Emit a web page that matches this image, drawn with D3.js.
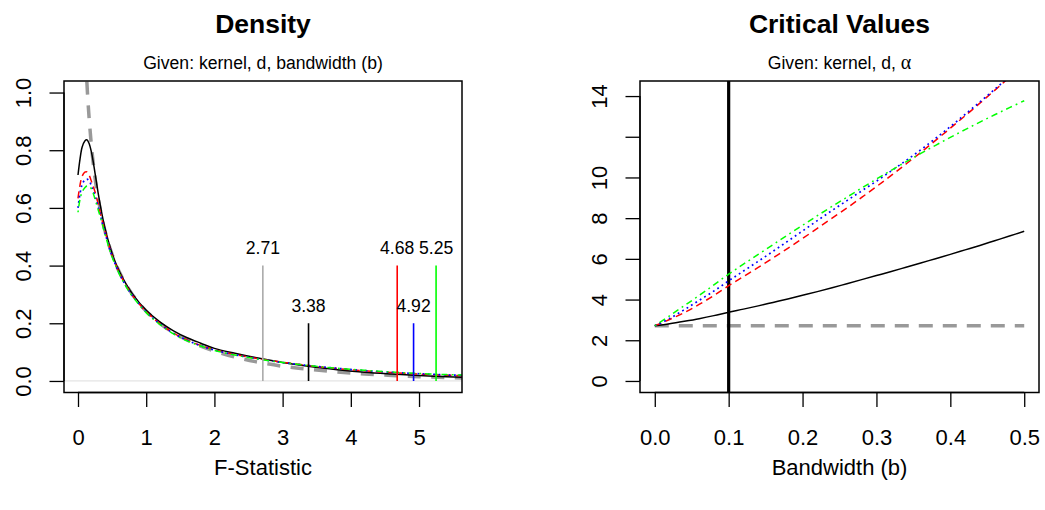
<!DOCTYPE html>
<html>
<head>
<meta charset="utf-8">
<script src="https://cdn.jsdelivr.net/npm/d3@7"></script>
<style>
  html, body { margin: 0; padding: 0; background: #fff; }
  svg { display: block; font-family: "Liberation Sans", Arial, Helvetica, sans-serif; }
</style>
</head>
<body>
<svg id="chart" width="1045" height="510"></svg>
<script>
// ---- Density panel data ----
const densX = [0, 0.03, 0.06, 0.1, 0.13, 0.16, 0.2, 0.25, 0.3, 0.35, 0.4, 0.5, 0.6, 0.7, 0.8, 1.0,
  1.2, 1.4, 1.6, 1.8, 2.0, 2.3, 2.6, 3.0, 3.4, 3.8, 4.2, 4.6, 5.0, 5.4, 5.7];
const densBlack = [0.714, 0.77, 0.81, 0.832, 0.836, 0.825, 0.79, 0.72, 0.645, 0.58, 0.525, 0.442, 0.383, 0.338, 0.301, 0.245,
  0.205, 0.174, 0.150, 0.131, 0.113, 0.096, 0.081, 0.064, 0.050, 0.039, 0.030, 0.024, 0.019, 0.015, 0.012];
const densRed = [0.633, 0.68, 0.71, 0.724, 0.725, 0.715, 0.69, 0.655, 0.61, 0.56, 0.515, 0.435, 0.378, 0.333, 0.296, 0.240,
  0.199, 0.166, 0.142, 0.123, 0.108, 0.092, 0.079, 0.065, 0.053, 0.043, 0.035, 0.029, 0.024, 0.020, 0.018];
const densBlue = [0.60, 0.65, 0.68, 0.697, 0.70, 0.695, 0.675, 0.64, 0.60, 0.555, 0.51, 0.433, 0.376, 0.331, 0.295, 0.239,
  0.198, 0.165, 0.141, 0.122, 0.107, 0.091, 0.078, 0.064, 0.053, 0.044, 0.036, 0.030, 0.025, 0.021, 0.019];
const densGreen = [0.585, 0.63, 0.655, 0.670, 0.676, 0.675, 0.665, 0.63, 0.59, 0.55, 0.505, 0.43, 0.374, 0.329, 0.293, 0.237,
  0.196, 0.163, 0.139, 0.121, 0.106, 0.090, 0.077, 0.064, 0.053, 0.044, 0.037, 0.031, 0.026, 0.022, 0.020];
// chi-square(1) reference density
const chiX = [0.1, 0.12, 0.15, 0.2, 0.25, 0.3, 0.4, 0.5, 0.6, 0.7, 0.8, 1.0, 1.2, 1.4, 1.6, 1.8, 2.0, 2.3, 2.6, 3.0,
  3.4, 3.8, 4.2, 4.6, 5.0, 5.4, 5.7];
const chiY = [1.2, 1.085, 0.956, 0.807, 0.704, 0.627, 0.516, 0.439, 0.381, 0.336, 0.299, 0.242, 0.200, 0.167, 0.142, 0.121,
  0.104, 0.083, 0.067, 0.051, 0.040, 0.031, 0.024, 0.019, 0.015, 0.012, 0.010];

// critical value markers
const critVals = [2.71, 3.38, 4.68, 4.92, 5.25];
const critLabels = ["2.71", "3.38", "4.68", "4.92", "5.25"];
const critHeights = [0.4, 0.2, 0.4, 0.2, 0.4];
const critColors = ["#aaaaaa", "#000000", "#ff0000", "#0000ff", "#00ff00"];

const densXTicks = [0, 1, 2, 3, 4, 5];
const densYTicks = [0, 0.2, 0.4, 0.6, 0.8, 1.0];
const densYTickLabels = ["0.0", "0.2", "0.4", "0.6", "0.8", "1.0"];

// ---- Critical values panel data ----
const bw = [0, 0.02, 0.04, 0.06, 0.08, 0.10, 0.12, 0.14, 0.16, 0.18, 0.20, 0.22, 0.24,
  0.26, 0.28, 0.30, 0.32, 0.34, 0.36, 0.38, 0.40, 0.42, 0.44, 0.46, 0.48, 0.50];
const cvBlack = [2.71, 2.81, 2.93, 3.06, 3.21, 3.38, 3.53, 3.69, 3.86, 4.03, 4.21, 4.39, 4.58,
  4.78, 4.98, 5.18, 5.38, 5.59, 5.80, 6.01, 6.22, 6.44, 6.66, 6.89, 7.12, 7.36];
const cvRed = [2.71, 3.02, 3.36, 3.76, 4.20, 4.68, 5.13, 5.58, 6.04, 6.52, 7.00, 7.50, 8.00,
  8.50, 9.02, 9.55, 10.10, 10.66, 11.23, 11.82, 12.42, 13.03, 13.65, 14.28, 14.92, 15.57];
const cvBlue = [2.71, 3.07, 3.50, 3.96, 4.42, 4.92, 5.40, 5.88, 6.37, 6.87, 7.37, 7.88, 8.38,
  8.86, 9.34, 9.82, 10.32, 10.83, 11.36, 11.92, 12.50, 13.10, 13.71, 14.33, 14.97, 15.62];
const cvGreen = [2.71, 3.20, 3.70, 4.20, 4.72, 5.25, 5.74, 6.22, 6.70, 7.18, 7.65, 8.12, 8.58,
  9.03, 9.48, 9.92, 10.35, 10.77, 11.18, 11.58, 11.97, 12.35, 12.72, 13.08, 13.43, 13.77];
const chiCrit = 2.71;
const chosenBw = 0.1;

const cvXTicks = [0, 0.1, 0.2, 0.3, 0.4, 0.5];
const cvXTickLabels = ["0.0", "0.1", "0.2", "0.3", "0.4", "0.5"];
const cvYTicks = [0, 2, 4, 6, 8, 10, 12, 14];
const cvYTickLabels = ["0", "2", "4", "6", "8", "10", "", "14"];

// ---- drawing ----
const svg = d3.select("#chart");
const TICK_FONT = 22, SMALL_FONT = 17.6, TITLE_FONT = 26.5;

const styles = {
  black: { color: "#000", dash: null },
  red: { color: "#ff0000", dash: "7,4.5" },
  blue: { color: "#0000ff", dash: "1.8,3.4" },
  green: { color: "#00ff00", dash: "1.8,4,6.5,4" },
  gray: { color: "#999999", dash: "13,10.5" }
};

function panel(opts) {
  const { left, right, top, bottom, xDomain, yDomain, id } = opts;
  const x = d3.scaleLinear().domain(xDomain).range([left, right]);
  const y = d3.scaleLinear().domain(yDomain).range([bottom, top]);
  const g = svg.append("g");
  svg.append("clipPath").attr("id", id)
    .append("rect").attr("x", left).attr("y", top)
    .attr("width", right - left).attr("height", bottom - top);
  const plot = g.append("g").attr("clip-path", `url(#${id})`);
  return { x, y, g, plot, left, right, top, bottom };
}

function drawAxes(p, xTicks, xLabels, yTicks, yLabels, xTitle, title, subtitle) {
  const { x, y, g, left, right, top, bottom } = p;
  // x axis
  const xa = d3.axisBottom(x).tickValues(xTicks).tickFormat((d, i) => xLabels[i])
    .tickSize(14.5).tickPadding(20);
  const gx = g.append("g").attr("transform", `translate(0,${bottom})`).call(xa);
  gx.select(".domain").attr("d", `M${x(xTicks[0])},0H${x(xTicks[xTicks.length - 1])}`);
  gx.selectAll("line").attr("stroke", "#000").attr("stroke-width", 1.3);
  gx.select(".domain").attr("stroke", "#000").attr("stroke-width", 1.3);
  gx.selectAll("text").attr("font-size", TICK_FONT).attr("fill", "#000")
    .attr("font-family", "Liberation Sans, Arial, sans-serif").attr("dy", null)
    .attr("y", 52.5);
  // y axis with rotated labels
  const ya = d3.axisLeft(y).tickValues(yTicks).tickFormat((d, i) => yLabels[i])
    .tickSize(14.5).tickPadding(0);
  const gy = g.append("g").attr("transform", `translate(${left},0)`).call(ya);
  gy.select(".domain").attr("d", `M0,${y(yTicks[0])}V${y(yTicks[yTicks.length - 1])}`);
  gy.selectAll("line").attr("stroke", "#000").attr("stroke-width", 1.3);
  gy.select(".domain").attr("stroke", "#000").attr("stroke-width", 1.3);
  gy.selectAll(".tick text").attr("font-size", TICK_FONT).attr("fill", "#000")
    .attr("font-family", "Liberation Sans, Arial, sans-serif")
    .attr("x", null).attr("dy", null)
    .attr("text-anchor", "middle")
    .attr("transform", "translate(-33,0) rotate(-90)");
  // box
  g.append("rect").attr("x", left).attr("y", top)
    .attr("width", right - left).attr("height", bottom - top)
    .attr("fill", "none").attr("stroke", "#000").attr("stroke-width", 1.5);
  const cx = (left + right) / 2;
  g.append("text").attr("x", cx).attr("y", 475).attr("text-anchor", "middle")
    .attr("font-size", TICK_FONT).text(xTitle);
  g.append("text").attr("x", cx).attr("y", 33).attr("text-anchor", "middle")
    .attr("font-size", TITLE_FONT).attr("font-weight", "bold").text(title);
  const st = g.append("text").attr("x", cx).attr("y", 68.5).attr("text-anchor", "middle")
    .attr("font-size", SMALL_FONT);
  subtitle(st);
}

function drawSeries(p, xs, ys, style, width) {
  const line = d3.line().x((d, i) => p.x(xs[i])).y(d => p.y(d)).curve(d3.curveCatmullRom.alpha(0.5));
  const path = p.plot.append("path").datum(ys)
    .attr("d", line).attr("fill", "none")
    .attr("stroke", style.color).attr("stroke-width", width);
  if (style.dash) path.attr("stroke-dasharray", style.dash);
  return path;
}

// Left panel: densities
const pd = panel({ left: 64, right: 462, top: 81, bottom: 392.5,
  xDomain: [-0.2053, 5.630], yDomain: [-0.04, 1.04], id: "clipDensity" });

// zero reference line
pd.plot.append("line").attr("x1", pd.left).attr("x2", pd.right)
  .attr("y1", pd.y(0)).attr("y2", pd.y(0)).attr("stroke", "#e4e4e4").attr("stroke-width", 1.2);

drawSeries(pd, chiX, chiY, styles.gray, 3.5);
drawSeries(pd, densX, densBlack, styles.black, 1.5);
drawSeries(pd, densX, densRed, styles.red, 1.5);
drawSeries(pd, densX, densBlue, styles.blue, 1.7);
drawSeries(pd, densX, densGreen, styles.green, 1.5);

critVals.forEach((v, i) => {
  pd.plot.append("line").attr("x1", pd.x(v)).attr("x2", pd.x(v))
    .attr("y1", pd.y(0)).attr("y2", pd.y(critHeights[i]))
    .attr("stroke", critColors[i]).attr("stroke-width", 1.6);
  pd.g.append("text").attr("x", pd.x(v)).attr("y", pd.y(critHeights[i]) - 11.5)
    .attr("text-anchor", "middle").attr("font-size", SMALL_FONT).attr("fill", "#000")
    .text(critLabels[i]);
});

drawAxes(pd, densXTicks, densXTicks.map(String), densYTicks, densYTickLabels,
  "F-Statistic", "Density",
  t => t.text("Given: kernel, d, bandwidth (b)"));

// Right panel: critical values against bandwidth
const pc = panel({ left: 640, right: 1039, top: 81, bottom: 392.5,
  xDomain: [-0.02, 0.52], yDomain: [-0.567, 14.74], id: "clipCrit" });

pc.plot.append("line").attr("x1", pc.x(0)).attr("x2", pc.x(0.5))
  .attr("y1", pc.y(chiCrit)).attr("y2", pc.y(chiCrit))
  .attr("stroke", styles.gray.color).attr("stroke-width", 3.5)
  .attr("stroke-dasharray", "14,10");
pc.plot.append("line").attr("x1", pc.x(chosenBw)).attr("x2", pc.x(chosenBw))
  .attr("y1", pc.top).attr("y2", pc.bottom)
  .attr("stroke", "#000").attr("stroke-width", 3.2);

drawSeries(pc, bw, cvBlack, styles.black, 1.5);
drawSeries(pc, bw, cvRed, styles.red, 1.5);
drawSeries(pc, bw, cvBlue, styles.blue, 1.7);
drawSeries(pc, bw, cvGreen, styles.green, 1.5);

drawAxes(pc, cvXTicks, cvXTickLabels, cvYTicks, cvYTickLabels,
  "Bandwidth (b)", "Critical Values",
  t => {
    t.append("tspan").text("Given: kernel, d, ");
    t.append("tspan").attr("font-family", "Liberation Serif, DejaVu Serif, serif")
      .attr("font-size", 20).text("α");
  });
</script>
</body>
</html>
